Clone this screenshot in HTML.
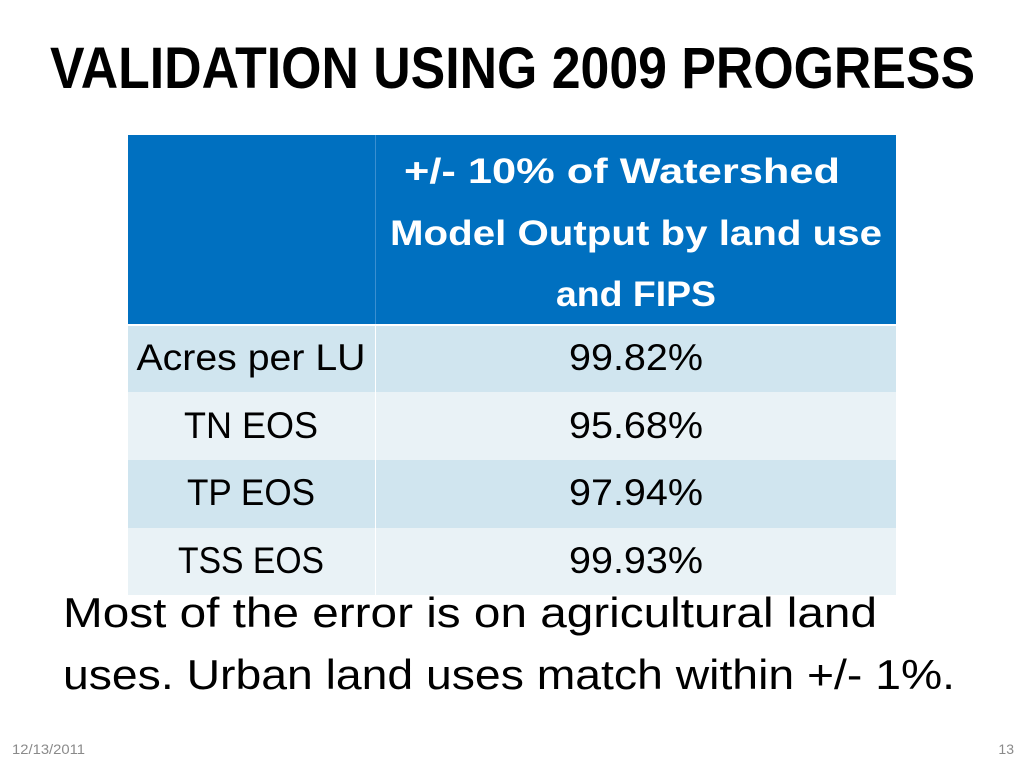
<!DOCTYPE html>
<html><head><meta charset="utf-8"><style>body{margin:0;background:#fff}svg{display:block}</style></head>
<body>
<svg width="1024" height="768" xmlns="http://www.w3.org/2000/svg" font-family="'Liberation Sans', sans-serif">
<rect width="1024" height="768" fill="#fff"/>
<text x="50" y="88" font-size="58" font-weight="bold" textLength="925" lengthAdjust="spacingAndGlyphs">VALIDATION USING 2009 PROGRESS</text>
<g>
<rect x="128" y="135" width="768" height="189" fill="#0070c0"/>
<line x1="375.5" y1="135" x2="375.5" y2="324" stroke="#3a8fd0" stroke-width="1"/>
<rect x="128" y="326" width="768" height="66" fill="#d0e5ef"/>
<rect x="128" y="392" width="768" height="68" fill="#e9f2f6"/>
<rect x="128" y="460" width="768" height="68" fill="#d0e5ef"/>
<rect x="128" y="528" width="768" height="67" fill="#e9f2f6"/>
<line x1="375.5" y1="326" x2="375.5" y2="595" stroke="#fff" stroke-width="1"/>
<g fill="#fff" font-weight="bold" font-size="35" text-anchor="middle">
<text x="622" y="183" textLength="436" lengthAdjust="spacingAndGlyphs">+/- 10% of Watershed</text>
<text x="636" y="245" textLength="492" lengthAdjust="spacingAndGlyphs">Model Output by land use</text>
<text x="636" y="306" textLength="160" lengthAdjust="spacingAndGlyphs">and FIPS</text>
</g>
<g font-size="37" fill="#000" text-anchor="middle">
<text x="251" y="370" textLength="229" lengthAdjust="spacingAndGlyphs">Acres per LU</text>
<text x="251" y="438" textLength="134" lengthAdjust="spacingAndGlyphs">TN EOS</text>
<text x="251" y="505" textLength="128" lengthAdjust="spacingAndGlyphs">TP EOS</text>
<text x="251" y="573" textLength="146" lengthAdjust="spacingAndGlyphs">TSS EOS</text>
<text x="636" y="370" textLength="134" lengthAdjust="spacingAndGlyphs">99.82%</text>
<text x="636" y="438" textLength="134" lengthAdjust="spacingAndGlyphs">95.68%</text>
<text x="636" y="505" textLength="134" lengthAdjust="spacingAndGlyphs">97.94%</text>
<text x="636" y="573" textLength="134" lengthAdjust="spacingAndGlyphs">99.93%</text>
</g>
</g>
<g font-size="42" fill="#000">
<text x="63" y="627" textLength="814" lengthAdjust="spacingAndGlyphs">Most of the error is on agricultural land</text>
<text x="63" y="689" textLength="892" lengthAdjust="spacingAndGlyphs">uses. Urban land uses match within +/- 1%.</text>
</g>
<text x="12" y="754" font-size="14" fill="#8a8a8a" textLength="73" lengthAdjust="spacingAndGlyphs">12/13/2011</text>
<text x="1014" y="754" font-size="14" fill="#8a8a8a" text-anchor="end">13</text>
</svg>
</body></html>
